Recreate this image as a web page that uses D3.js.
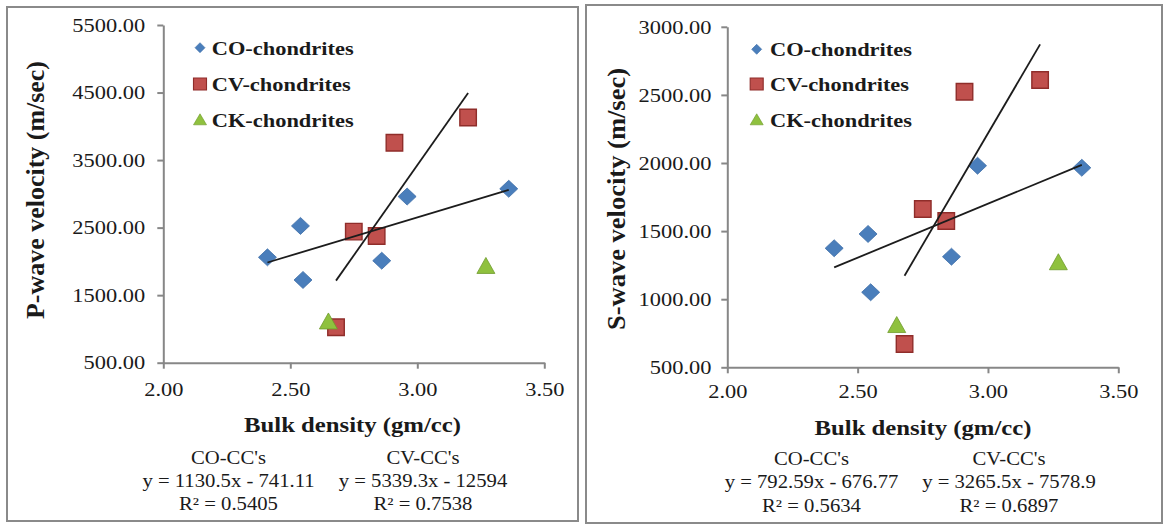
<!DOCTYPE html>
<html>
<head>
<meta charset="utf-8">
<script src="https://cdn.jsdelivr.net/npm/d3@7"></script>
<style>
  html, body { margin: 0; padding: 0; background: #fff; }
  svg { display: block; }
  text { font-family: "Liberation Serif", "Times New Roman", serif; fill: #1a1a1a; }
</style>
</head>
<body>
<svg id="chart" width="1166" height="527"></svg>
<script>
// Bulk density of each sample (gm/cc)
const coDensity = [2.41, 2.54, 2.55, 2.86, 2.96, 3.36];
const cvDensity = [2.68, 2.75, 2.84, 2.91, 3.20];
const ckDensity = [2.65, 3.27];

// P-wave velocity (m/sec)
const coPWave = [2060, 2525, 1725, 2010, 2960, 3075];
const cvPWave = [1024, 2441, 2377, 3756, 4130];
const ckPWave = [1118, 1940];

// S-wave velocity (m/sec)
const coSWave = [1374, 1479, 1051, 1312, 1980, 1965];
const cvSWave = [671, 1662, 1574, 2523, 2609];
const ckSWave = [814, 1275];

const seriesNames = ["CO-chondrites", "CV-chondrites", "CK-chondrites"];
const fitGroupNames = ["CO-CC's", "CV-CC's"];
const densityTicks = [2.0, 2.5, 3.0, 3.5];
const pWaveTicks = [500, 1500, 2500, 3500, 4500, 5500];
const sWaveTicks = [500, 1000, 1500, 2000, 2500, 3000];

// Linear trendlines: [slope, intercept, R²]
const pWaveFitCO = [1130.5, -741.11, 0.5405];
const pWaveFitCV = [5339.3, -12594, 0.7538];
const sWaveFitCO = [792.59, -676.77, 0.5634];
const sWaveFitCV = [3265.5, -7578.9, 0.6897];

// ---- drawing ----
const SX = 1.15;            // horizontal text stretch
const AXIS_COLOR = "#878787";
const svg = d3.select("#chart");

const markerStyle = {
  diamond:  { fill: "#4a7ebb", stroke: "#3f6fa8", sw: 0.8 },
  square:   { fill: "#c0504d", stroke: "#8f2d2a", sw: 1.4 },
  triangle: { fill: "#8fc13e", stroke: "#6f9a2c", sw: 0.8 }
};
const shapes = ["diamond", "square", "triangle"];

function markerPath(kind, w, h) {
  const a = w / 2, b = h / 2;
  if (kind === "diamond") return `M0,${-b}L${a},0L0,${b}L${-a},0Z`;
  if (kind === "square") return `M${-a},${-b}H${a}V${b}H${-a}Z`;
  return `M0,${-b}L${a},${b}L${-a},${b}Z`;
}

function stretched(g, str, x, y, size, weight, anchor) {
  return g.append("text")
    .attr("transform", `translate(${x},${y}) scale(${SX},1)`)
    .attr("text-anchor", anchor || "start")
    .attr("font-size", size)
    .attr("font-weight", weight || "normal")
    .text(str);
}

function fitText(fit) {
  const [m, c] = fit;
  const sign = c < 0 ? "-" : "+";
  return `y = ${m}x ${sign} ${Math.abs(c)}`;
}

const panels = [
  {
    frame: [7, 7, 578, 521],
    xRange: [163.3, 544.3], yRange: [362.7, 25],
    yDomain: [500, 5500], yTicks: pWaveTicks,
    series: [[coDensity, coPWave], [cvDensity, cvPWave], [ckDensity, ckPWave]],
    fits: [[coDensity, pWaveFitCO], [cvDensity, pWaveFitCV]],
    yTitle: "P-wave velocity (m/sec)", yTitlePos: [43.5, 190], yTitleLen: 258,
    yPad: 9.8, xPad: 13.5,
    legend: { mx: 200, tx: 211.7, my: [47.7, 84, 119.3], ty: [54.5, 91, 126.5] },
    xTitle: [352.5, 432],
    footer: { cx: [228.5, 423], ty: [464, 486.5, 510] }
  },
  {
    frame: [586, 5, 1162, 523],
    xRange: [727.3, 1118.3], yRange: [367.3, 26.8],
    yDomain: [500, 3000], yTicks: sWaveTicks,
    series: [[coDensity, coSWave], [cvDensity, cvSWave], [ckDensity, ckSWave]],
    fits: [[coDensity, sWaveFitCO], [cvDensity, sWaveFitCV]],
    yTitle: "S-wave velocity (m/sec)", yTitlePos: [624.5, 199], yTitleLen: 262,
    yPad: 7.8, xPad: 11,
    legend: { mx: 756.7, tx: 770, my: [49.3, 84, 119.3], ty: [55.7, 91, 126.5] },
    xTitle: [923, 434.5],
    footer: { cx: [811.5, 1009], ty: [465, 487.5, 512] }
  }
];

panels.forEach(p => {
  const g = svg.append("g");
  const [fx0, fy0, fx1, fy1] = p.frame;
  g.append("rect")
    .attr("x", fx0).attr("y", fy0)
    .attr("width", fx1 - fx0).attr("height", fy1 - fy0)
    .attr("fill", "#fff").attr("stroke", "#8a8a8a").attr("stroke-width", 2);

  const x = d3.scaleLinear().domain([2.0, 3.5]).range(p.xRange);
  const y = d3.scaleLinear().domain(p.yDomain).range(p.yRange);

  // y axis
  const yAxis = g.append("g")
    .attr("transform", `translate(${p.xRange[0]},0)`)
    .call(d3.axisLeft(y).tickValues(p.yTicks).tickFormat(d3.format(".2f"))
      .tickSize(6).tickSizeOuter(0).tickPadding(p.yPad));
  // x axis
  const xAxis = g.append("g")
    .attr("transform", `translate(0,${p.yRange[0]})`)
    .call(d3.axisBottom(x).tickValues(densityTicks).tickFormat(d3.format(".2f"))
      .tickSize(6).tickSizeOuter(0).tickPadding(p.xPad));

  [yAxis, xAxis].forEach(ax => {
    ax.select(".domain").attr("stroke", AXIS_COLOR).attr("stroke-width", 2);
    ax.selectAll(".tick line").attr("stroke", AXIS_COLOR).attr("stroke-width", 2);
    ax.selectAll(".tick text")
      .attr("font-family", "Liberation Serif, Times New Roman, serif")
      .attr("font-size", 19.5)
      .attr("fill", "#262626")
      .attr("transform", `scale(${SX},1)`);
  });

  // markers
  p.series.forEach(([xs, ys], i) => {
    const st = markerStyle[shapes[i]];
    const dims = shapes[i] === "triangle" ? [18, 16] : shapes[i] === "square" ? [16.5, 16.5] : [18, 17];
    g.append("g").selectAll("path")
      .data(xs.map((d, k) => [d, ys[k]]))
      .join("path")
      .attr("transform", d => `translate(${x(d[0])},${y(d[1])})`)
      .attr("d", markerPath(shapes[i], dims[0], dims[1]))
      .attr("fill", st.fill).attr("stroke", st.stroke).attr("stroke-width", st.sw);
  });

  // trendlines from the fitted equations, spanning each series' density range
  p.fits.forEach(([xs, fit]) => {
    const [m, c] = fit;
    const ext = d3.extent(xs);
    g.append("path")
      .datum(ext.map(d => [d, m * d + c]))
      .attr("d", d3.line().x(d => x(d[0])).y(d => y(d[1])))
      .attr("fill", "none").attr("stroke", "#1c1c1c").attr("stroke-width", 1.8);
  });

  // legend
  seriesNames.forEach((name, i) => {
    const st = markerStyle[shapes[i]];
    const dims = shapes[i] === "diamond" ? [10, 10] : shapes[i] === "square" ? [13, 12] : [13, 11];
    g.append("path")
      .attr("transform", `translate(${p.legend.mx},${p.legend.my[i]})`)
      .attr("d", markerPath(shapes[i], dims[0], dims[1]))
      .attr("fill", st.fill).attr("stroke", st.stroke).attr("stroke-width", st.sw * 0.8);
    stretched(g, name, p.legend.tx, p.legend.ty[i], 19.5, "bold", "start");
  });

  // axis titles
  stretched(g, "Bulk density (gm/cc)", p.xTitle[0], p.xTitle[1], 21.5, "bold", "middle");
  g.append("text")
    .attr("transform", `translate(${p.yTitlePos[0]},${p.yTitlePos[1]}) rotate(-90) scale(1,1.1)`)
    .attr("text-anchor", "middle")
    .attr("font-size", 22)
    .attr("font-weight", "bold")
    .attr("textLength", p.yTitleLen)
    .attr("lengthAdjust", "spacingAndGlyphs")
    .text(p.yTitle);

  // trendline equations
  p.fits.forEach(([, fit], j) => {
    const cx = p.footer.cx[j];
    stretched(g, fitGroupNames[j], cx, p.footer.ty[0], 18, "normal", "middle");
    stretched(g, fitText(fit), cx, p.footer.ty[1], 18, "normal", "middle");
    stretched(g, `R² = ${fit[2]}`, cx, p.footer.ty[2], 18, "normal", "middle");
  });
});
</script>
</body>
</html>
